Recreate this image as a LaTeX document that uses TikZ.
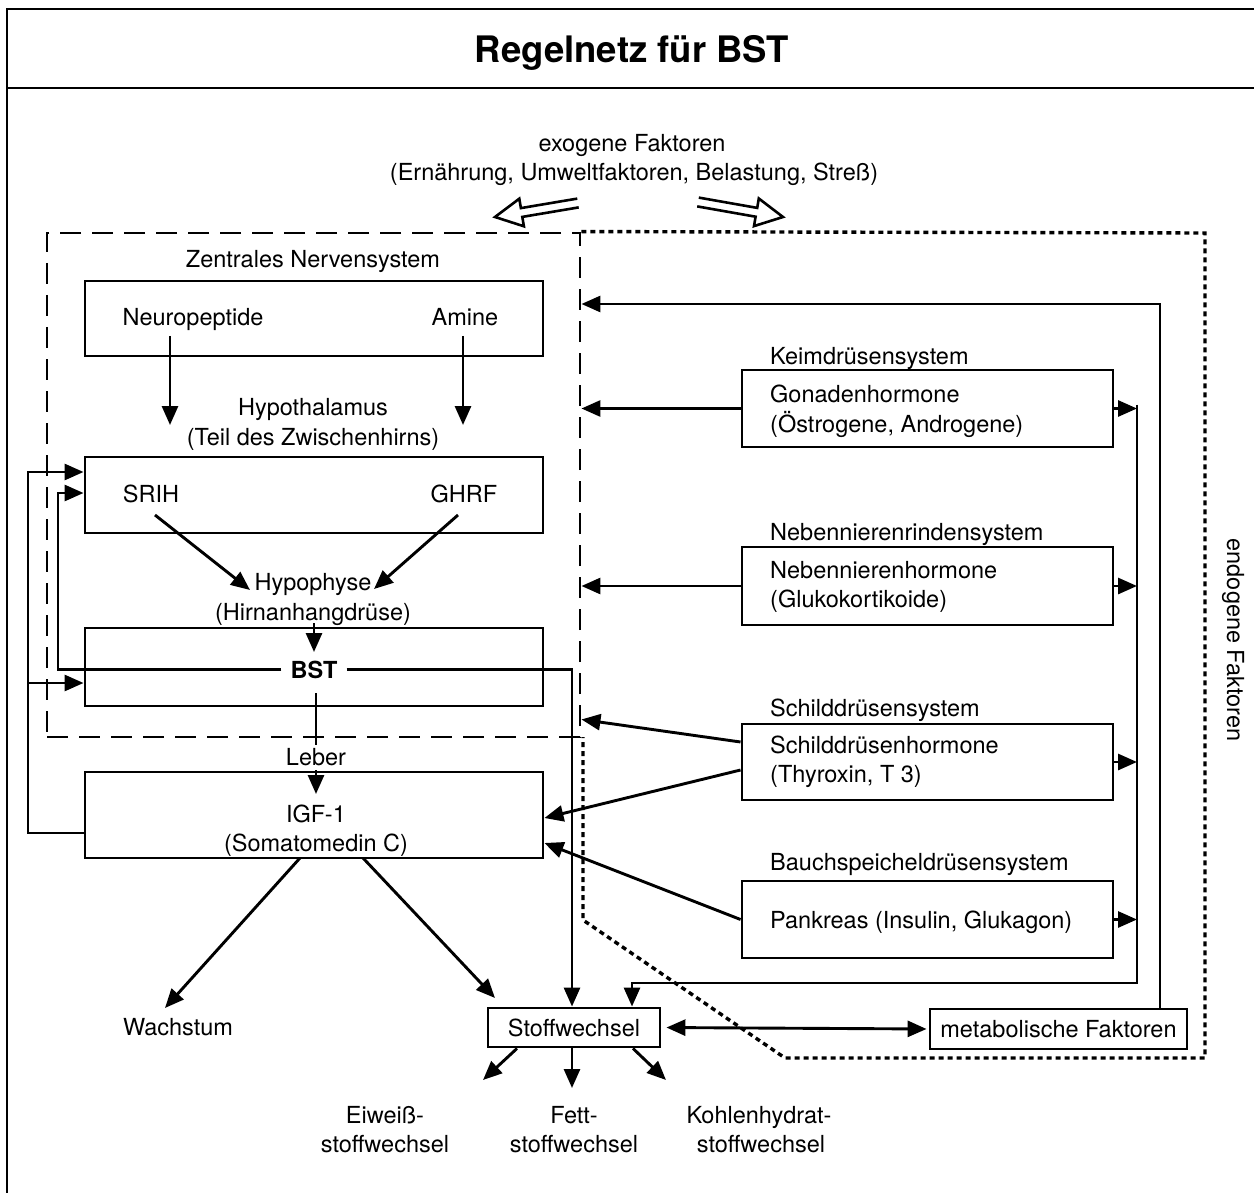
\documentclass[tikz,border=0pt]{standalone}
\usepackage{fontspec}
\setmainfont{TeX Gyre Heros}
\usetikzlibrary{arrows.meta,calc}
\newcommand\myfs{\fontsize{23.5}{28}\selectfont}
\begin{document}
\begin{tikzpicture}[x=1pt,y=-1pt,
  ln/.style={line width=2.9pt},
  tip/.tip={Triangle[length=19pt,width=16pt]},
  arr/.style={line width=2.9pt,-{tip}},
  box/.style={draw,line width=2.9pt,inner sep=0pt},
  txt/.style={font=\myfs,inner sep=0pt,anchor=base},
  ltxt/.style={font=\myfs,inner sep=0pt,anchor=base west},
  hollow/.style={line width=2.6pt,line join=miter},
  dotl/.style={line width=3.4pt,dash pattern=on 5pt off 4pt},
]
\useasboundingbox (0,0) rectangle (1254,1193);
% frame
\coordinate (ftl) at (7,9); \coordinate (ftr) at (1254,9); \coordinate (fbl) at (7,1193);
\coordinate (sl) at (7,88); \coordinate (sr) at (1254,88);
\draw[ln] (ftr) -- (ftl) -- (fbl);
\draw[ln] (sl) -- (sr);
\node[font=\fontsize{36.5}{40}\selectfont\bfseries,inner sep=0pt,anchor=base] (title) at (632,63) {Regelnetz für BST};

% exogene
\node[txt] (exo1) at (632,152) {exogene Faktoren};
\node[txt] (exo2) at (634,181) {(Ernährung, Umweltfaktoren, Belastung, Streß)};
\draw[hollow] (578.7,207.4) -- (522.3,216.9) -- (523.9,226.3) -- (495,217) -- (519.3,198.7) -- (520.9,208.1) -- (577.3,198.6);
\draw[hollow] (697.2,206.4) -- (755.6,216.7) -- (754.0,226.1) -- (783,217) -- (758.8,198.5) -- (757.2,207.9) -- (698.8,197.6);

% ZNS frame and dotted frame
\node[draw,line width=2.9pt,dash pattern=on 21pt off 11pt,minimum width=533pt,minimum height=504pt,inner sep=0pt] (zns) at (313.5,485) {};
\coordinate (d1) at (1205,233); \coordinate (d2) at (1205,1058); \coordinate (d3) at (785,1058);
\coordinate (d4) at (583,920); \coordinate (d5) at (583,737);
\draw[dotl] (zns.north east) -- (d1) -- (d2) -- (d3) -- (d4) -- (d5);

\node[txt] (znsl) at (313,268) {Zentrales Nervensystem};

% box 1
\node[box,minimum width=458pt,minimum height=75pt] (b1) at (314,318.5) {};
\node[txt] (neuro) at (193,326) {Neuropeptide};
\node[txt] (amine) at (465,326) {Amine};
\coordinate (n1) at (170,336); \coordinate (n2) at (170,425);
\coordinate (m1) at (463,336); \coordinate (m2) at (463,425);
\draw[arr] (n1) -- (n2);
\draw[arr] (m1) -- (m2);
\node[txt] (hyth1) at (313,415) {Hypothalamus};
\node[txt] (hyth2) at (313,445) {(Teil des Zwischenhirns)};

% box 2
\node[box,minimum width=458pt,minimum height=76pt] (b2) at (314,495) {};
\node[txt] (srih) at (151,502) {SRIH};
\node[txt] (ghrf) at (464,502) {GHRF};
\coordinate (s1) at (155,515); \coordinate (s2) at (250,590);
\coordinate (g1) at (458,515); \coordinate (g2) at (374,589);
\draw[arr] (s1) -- (s2);
\draw[arr] (g1) -- (g2);
\node[txt] (hyp1) at (313,590) {Hypophyse};
\node[txt] (hyp2) at (313,620) {(Hirnanhangdrüse)};
\coordinate (h1) at (314,623); \coordinate (h2) at (314,652);
\draw[arr] (h1) -- (h2);

% box 3 BST
\node[box,minimum width=458pt,minimum height=78pt] (b3) at (314,667) {};
\node[font=\myfs\bfseries,inner xsep=9pt,inner ysep=0pt,anchor=base] (bst) at (314,678) {BST};
\coordinate (fbi) at (58,493);
\draw[arr] (bst.west) -| (fbi) -- (fbi -| b2.west);
\coordinate (vr) at (572,1000);
\coordinate (l1) at (316,693); \coordinate (l2) at (316,745);
\draw[ln] (l1) -- (l2);
\node[txt] (leber) at (316,765) {Leber};
\coordinate (l3) at (316,770); \coordinate (l4) at (316,794);
\draw[arr] (l3) -- (l4);

% box 4 IGF
\node[box,minimum width=458pt,minimum height=86pt] (b4) at (314,815) {};
\node[txt] (igf1) at (316,822) {IGF-1};
\node[txt] (igf2) at (316,851) {(Somatomedin C)};
\coordinate (fo1) at (28,833); \coordinate (fo2) at (28,472); \coordinate (fo3) at (28,683);
\draw[arr] (b4.west |- fo1) -- (fo1) -- (fo2) -- (fo2 -| b2.west);
\draw[arr] (fo3) -- (fo3 -| b3.west);

% right systems
\node[ltxt] (keim) at (770,364) {Keimdrüsensystem};
\node[box,minimum width=371pt,minimum height=77pt] (gon) at (927.5,408.5) {};
\node[ltxt] (gon1) at (770,402) {Gonadenhormone};
\node[ltxt] (gon2) at (770,432) {(Östrogene, Androgene)};

\node[ltxt] (nebl) at (770,540) {Nebennierenrindensystem};
\node[box,minimum width=371pt,minimum height=78pt] (neb) at (927.5,586) {};
\node[ltxt] (neb1) at (770,578) {Nebennierenhormone};
\node[ltxt] (neb2) at (770,607) {(Glukokortikoide)};

\node[ltxt] (schl) at (770,716) {Schilddrüsensystem};
\node[box,minimum width=371pt,minimum height=76pt] (sch) at (927.5,762) {};
\node[ltxt] (sch1) at (770,753) {Schilddrüsenhormone};
\node[ltxt] (sch2) at (770,782) {(Thyroxin, T 3)};

\node[ltxt] (panl) at (770,870) {Bauchspeicheldrüsensystem};
\node[box,minimum width=371pt,minimum height=77pt] (pan) at (927.5,919.5) {};
\node[ltxt] (pan1) at (770,928) {Pankreas (Insulin, Glukagon)};

% arrows to ZNS / IGF
\draw[arr] (gon.west) -- (gon.west -| zns.east);
\draw[arr] (neb.west) -- (neb.west -| zns.east);
\draw[arr] ($(sch.west)+(0,-20)$) -- ($(zns.south east)+(0,-19)$);
\draw[arr] ($(sch.west)+(0,8)$) -- ($(b4.east)+(0,3)$);
\draw[arr] (pan.west) -- ($(b4.east)+(0,28)$);

% Stoffwechsel and metabolische Faktoren
\node[box,minimum width=172pt,minimum height=39pt,font=\myfs] (stw) at (574,1027.5) {Stoffwechsel};
\node[box,minimum width=257pt,minimum height=40pt,font=\myfs] (met) at (1058.5,1029) {metabolische Faktoren};
\draw[line width=2.9pt,{tip}-{tip},shorten <=5pt,shorten >=2pt] (stw.east) -- (met.west);

\draw[arr] (bst.east) -- (bst.east -| vr) -- (vr |- stw.north);

% right collector
\coordinate (vx) at (1137,983); \coordinate (st2) at (632,983);
\draw[arr] (gon.east) -- (gon.east -| vx);
\draw[arr] (neb.east) -- (neb.east -| vx);
\draw[arr] (sch.east) -- (sch.east -| vx);
\draw[arr] (pan.east) -- (pan.east -| vx);
\draw[arr] ($(gon.east -| vx)+(0,-4)$) -- (vx) -- (st2) -- (st2 |- stw.north);
\coordinate (mo) at (1160,304);
\draw[arr] (mo |- met.north) -- (mo) -- (mo -| zns.east);

% IGF outputs
\coordinate (i1) at (300,858); \coordinate (i2) at (165,1008);
\coordinate (i3) at (363,858); \coordinate (i4) at (495,998);
\draw[arr] (i1) -- (i2);
\draw[arr] (i3) -- (i4);
\node[txt] (wachs) at (178,1035) {Wachstum};

% Stoffwechsel outputs
\coordinate (o1) at (483,1080); \coordinate (o2) at (572,1088); \coordinate (o3) at (666,1080);
\draw[arr] ($(stw.south)+(-57,0)$) -- (o1);
\draw[arr] ($(stw.south)+(-2,0)$) -- (o2);
\draw[arr] ($(stw.south)+(59,0)$) -- (o3);
\node[txt] (ew1) at (385,1123) {Eiweiß-};
\node[txt] (ew2) at (385,1152) {stoffwechsel};
\node[txt] (fe1) at (574,1123) {Fett-};
\node[txt] (fe2) at (574,1152) {stoffwechsel};
\node[txt] (kh1) at (759,1123) {Kohlenhydrat-};
\node[txt] (kh2) at (761,1152) {stoffwechsel};

\node[font=\myfs,inner sep=0pt,rotate=-90] (endo) at (1233,640) {endogene Faktoren};
\end{tikzpicture}
\end{document}
